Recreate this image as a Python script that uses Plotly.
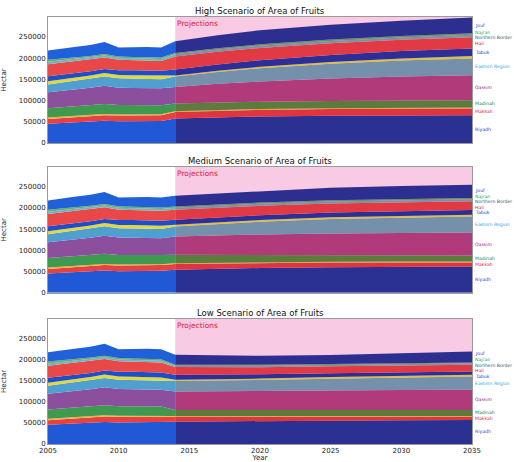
import plotly.graph_objects as go

regions = ["Riyadh", "Makkah", "Asir", "Madinah", "Qassim", "Eastern Region",
           "Jazan", "Tabuk", "Hail", "Northern Border", "Najran", "Jouf"]

hist_years = [2005, 2006, 2007, 2008, 2009, 2010, 2011, 2012, 2013]
hist_riyadh = [45500, 47000, 48500, 50000, 52500, 51000, 51200, 51500, 52000]
hist_makkah = [11000, 11500, 12000, 12500, 13000, 13500, 13600, 13500, 13500]
hist_asir = [3500, 3300, 3100, 3000, 2800, 2400, 2200, 2100, 2000]
hist_madinah = [22000, 22500, 23000, 23500, 23600, 22500, 22000, 21800, 21500]
hist_qassim = [37500, 38500, 39500, 41000, 43000, 41000, 40800, 40500, 40000]
hist_eastern = [18500, 19500, 20500, 21000, 22000, 22000, 22100, 22000, 21500]
hist_jazan = [7500, 7600, 7700, 7800, 8000, 7800, 7800, 7700, 7500]
hist_tabuk = [11800, 11200, 10500, 10000, 9400, 11500, 11800, 11800, 12000]
hist_hail = [28500, 28500, 28000, 27800, 27400, 24500, 23600, 23500, 23500]
hist_nb = [5500, 5200, 5000, 4800, 4500, 4500, 4400, 4400, 4400]
hist_najran = [4800, 4300, 4000, 3700, 3500, 3400, 3400, 3400, 3400]
hist_jouf = [21900, 23900, 25200, 25900, 28300, 20900, 22900, 23800, 23700]
history = [hist_riyadh, hist_makkah, hist_asir, hist_madinah, hist_qassim, hist_eastern,
           hist_jazan, hist_tabuk, hist_hail, hist_nb, hist_najran, hist_jouf]

proj_years = [2014, 2017, 2020, 2025, 2030, 2035]
high = [
    [57500, 60500, 62500, 64000, 65000, 65500],   # Riyadh
    [15500, 15500, 15500, 15800, 16000, 16000],   # Makkah
    [2000, 2000, 2100, 2100, 2100, 2100],         # Asir
    [18000, 17500, 17000, 17000, 17200, 17300],   # Madinah
    [39000, 44000, 48000, 53000, 56500, 59000],   # Qassim
    [24500, 28000, 31000, 35000, 37500, 39500],   # Eastern Region
    [2500, 3000, 3500, 4200, 4800, 5400],         # Jazan
    [14000, 14500, 15500, 16500, 17500, 18200],   # Tabuk
    [31000, 30000, 29000, 27500, 26500, 26000],   # Hail
    [5000, 5200, 5400, 5600, 5800, 6000],         # Northern Border
    [3000, 3100, 3200, 3300, 3400, 3500],         # Najran
    [28000, 30700, 33300, 35000, 35700, 37500],   # Jouf
]
medium = [
    [54200, 56500, 58500, 60500, 61500, 62000],
    [13800, 12800, 11800, 10800, 10200, 9800],
    [2000, 2000, 2000, 2000, 2000, 2000],
    [19600, 18000, 16800, 15300, 14600, 14200],
    [43100, 46000, 48500, 51500, 53200, 54200],
    [23600, 27000, 30000, 34000, 36500, 38000],
    [4100, 4000, 4000, 3950, 3900, 3900],
    [11700, 11600, 11500, 11450, 11400, 11400],
    [23600, 22800, 22000, 21000, 20600, 20300],
    [4800, 4850, 4900, 4950, 5000, 5000],
    [3000, 3000, 3000, 3000, 3000, 3000],
    [25200, 25450, 27000, 29550, 30100, 30900],
]
low = [
    [53100, 54000, 54800, 55800, 56500, 57100],
    [11600, 10900, 10200, 9200, 8400, 7600],
    [2000, 2000, 2000, 2000, 2000, 2000],
    [14300, 14300, 14300, 14300, 14300, 14300],
    [43500, 44200, 44800, 45800, 46700, 47600],
    [24900, 24800, 25800, 28000, 30000, 31700],
    [3000, 3200, 3400, 3700, 3900, 4000],
    [11900, 11000, 10100, 9000, 8400, 7900],
    [18300, 17500, 17000, 16500, 16200, 15900],
    [3300, 3300, 3300, 3300, 3300, 3300],
    [2200, 2200, 2200, 2200, 2200, 2200],
    [23800, 23100, 21600, 21700, 23100, 26200],
]
scenarios = [("High Scenario of Area of Fruits", high),
             ("Medium Scenario of Area of Fruits", medium),
             ("Low Scenario of Area of Fruits", low)]

y_ticks = [0, 50000, 100000, 150000, 200000, 250000]
x_ticks = [2005, 2010, 2015, 2020, 2025, 2030, 2035]
y_max = 297000

hist_colors = ["#2158d6", "#e8413f", "#f0b040", "#3f9a4f", "#8b4f9e", "#4f9fd0",
               "#e0d840", "#1f4fc8", "#e84848", "#7fb0b8", "#60b070", "#2060d8"]
proj_colors = ["#2b3192", "#e0343f", "#e0a040", "#5b7d3b", "#b03a7a", "#7490aa",
               "#d8c040", "#2c2f9a", "#e23a45", "#8a8aa0", "#5a9a60", "#2d2f90"]
label_colors = {"Riyadh": "#2040e0", "Makkah": "#e02040", "Madinah": "#208040",
                "Qassim": "#a02090", "Eastern Region": "#40a0e0", "Tabuk": "#2040e0",
                "Hail": "#e02040", "Northern Border": "#206080", "Najran": "#30a050",
                "Jouf": "#2040e0"}

W, H = 514, 462
margin = dict(l=48, r=42, t=17, b=18)
domains = [[0.705, 1.0], [0.354, 0.649], [0.0, 0.293]]
font = "DejaVu Sans"
plot_h = H - margin["t"] - margin["b"]

fig = go.Figure()
annotations = []
shapes = []
for i, (title, proj) in enumerate(scenarios):
    ax = "" if i == 0 else str(i + 1)
    xref, yref = "x" + ax, "y" + ax
    for k, name in enumerate(regions):
        fig.add_trace(go.Scatter(
            x=hist_years + [proj_years[0]], y=history[k] + [proj[k][0]],
            xaxis=xref, yaxis=yref, stackgroup="h%d" % i, mode="lines",
            line=dict(width=0, color=hist_colors[k]), fillcolor=hist_colors[k],
            name=name, showlegend=False))
    for k, name in enumerate(regions):
        fig.add_trace(go.Scatter(
            x=proj_years, y=proj[k],
            xaxis=xref, yaxis=yref, stackgroup="p%d" % i, mode="lines",
            line=dict(width=0, color=proj_colors[k]), fillcolor=proj_colors[k],
            name=name, showlegend=False))
    shapes.append(dict(type="rect", xref=xref, yref=yref + " domain",
                       x0=proj_years[0], x1=proj_years[-1], y0=0, y1=1,
                       fillcolor="#f9cae4", line=dict(width=0), layer="below"))
    # region labels at the end of the projection, pushed apart to avoid overlap
    px_per_unit = plot_h * (domains[i][1] - domains[i][0]) / y_max
    cum = 0
    labs = []
    for k, name in enumerate(regions):
        v = proj[k][-1]
        mid = cum + v / 2
        cum += v
        if name in label_colors:
            labs.append([name, mid, mid * px_per_unit])
    labs.sort(key=lambda t: -t[2])
    pos = [t[2] for t in labs]
    gap = 5.6
    for _ in range(50):
        for j in range(1, len(pos)):
            d = pos[j - 1] - pos[j]
            if d < gap:
                push = (gap - d) / 2
                pos[j - 1] += push
                pos[j] -= push
    for (name, mid, p0), p in zip(labs, pos):
        annotations.append(dict(x=proj_years[-1], y=mid, xref=xref, yref=yref,
                                text=name, showarrow=False, xanchor="left",
                                xshift=1, yshift=p - p0,
                                font=dict(size=4.6, color=label_colors[name], family=font)))
    annotations.append(dict(x=proj_years[0], y=282000, xref=xref, yref=yref,
                            text="Projections", showarrow=False, xanchor="left",
                            xshift=0, font=dict(size=7.5, color="#e0203a", family=font)))
    annotations.append(dict(x=0.5, y=domains[i][1], xref="paper", yref="paper",
                            text=title, showarrow=False, xanchor="center",
                            yanchor="bottom", yshift=-1,
                            font=dict(size=8.5, color="#111", family=font)))
    fig.layout["xaxis" + ax] = dict(
        domain=[0, 1], anchor=yref, range=[2005, 2035], tickvals=x_ticks,
        showticklabels=(i == 2), showgrid=False, zeroline=False, showline=True,
        mirror=True, linecolor="#999", linewidth=1, ticks="", automargin=False,
        tickfont=dict(size=7, color="#222", family=font),
        title=dict(text="Year" if i == 2 else "", font=dict(size=7, color="#222", family=font)))
    fig.layout["yaxis" + ax] = dict(
        domain=domains[i], anchor=xref, range=[0, y_max], tickvals=y_ticks,
        tickformat="d", showgrid=False, zeroline=False, showline=True, mirror=True,
        linecolor="#999", linewidth=1, ticks="", automargin=False,
        tickfont=dict(size=7, color="#222", family=font),
        title=dict(text="Hectar", font=dict(size=7, color="#222", family=font)))

fig.update_layout(width=W, height=H, margin=margin,
                  plot_bgcolor="white", paper_bgcolor="white",
                  annotations=annotations, shapes=shapes, showlegend=False,
                  font=dict(family=font))
fig.write_html("out.html", config={"displayModeBar": False},
               post_script="document.body.style.margin='0';document.body.style.overflow='hidden';")
